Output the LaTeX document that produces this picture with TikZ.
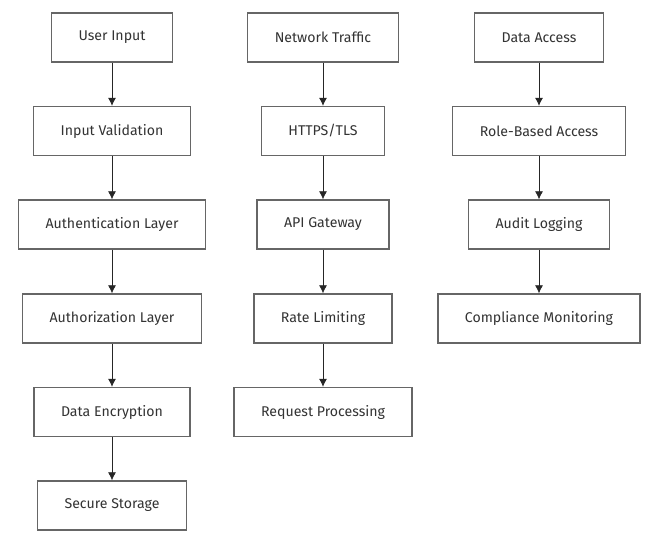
\documentclass[tikz,border=0pt]{standalone}
\usepackage{fontspec}
\usetikzlibrary{arrows.meta}
\setmainfont{Fira Sans}
\definecolor{boxline}{HTML}{666666}
\definecolor{boxtext}{HTML}{333333}
\begin{document}
\begin{tikzpicture}[x=0.75pt,y=-0.75pt,
  box/.style={draw=boxline,line width=1pt,fill=white,minimum height=36.75pt,inner xsep=20.25pt,text=boxtext,font=\fontsize{10.6}{12}\selectfont},
  flow/.style={draw=black!85,line width=0.6pt,->,>={Latex[length=6pt,width=6pt]}}]
\useasboundingbox (0,0) rectangle (648,541);

% left column: user data path
\node[box] (user) at (112,37.5) {User Input};
\node[box] (valid) at (112,131) {Input Validation};
\node[box] (authn) at (112,224.5) {Authentication Layer};
\node[box] (authz) at (112,318.5) {Authorization Layer};
\node[box] (encrypt) at (112,412) {Data Encryption};
\node[box] (store) at (112,505.5) {Secure Storage};

% middle column: network path
\node[box] (traffic) at (323,37.5) {Network Traffic};
\node[box] (tls) at (323,131) {HTTPS/TLS};
\node[box] (gateway) at (323,224.5) {API Gateway};
\node[box] (rate) at (323,318.5) {Rate Limiting};
\node[box] (request) at (323,412) {Request Processing};

% right column: access path
\node[box] (access) at (539,37.5) {Data Access};
\node[box] (role) at (539,131) {Role-Based Access};
\node[box] (audit) at (539,224.5) {Audit Logging};
\node[box] (comply) at (539,318.5) {Compliance Monitoring};

\path[flow] (user) -- (valid);
\path[flow] (valid) -- (authn);
\path[flow] (authn) -- (authz);
\path[flow] (authz) -- (encrypt);
\path[flow] (encrypt) -- (store);

\path[flow] (traffic) -- (tls);
\path[flow] (tls) -- (gateway);
\path[flow] (gateway) -- (rate);
\path[flow] (rate) -- (request);

\path[flow] (access) -- (role);
\path[flow] (role) -- (audit);
\path[flow] (audit) -- (comply);
\end{tikzpicture}
\end{document}
